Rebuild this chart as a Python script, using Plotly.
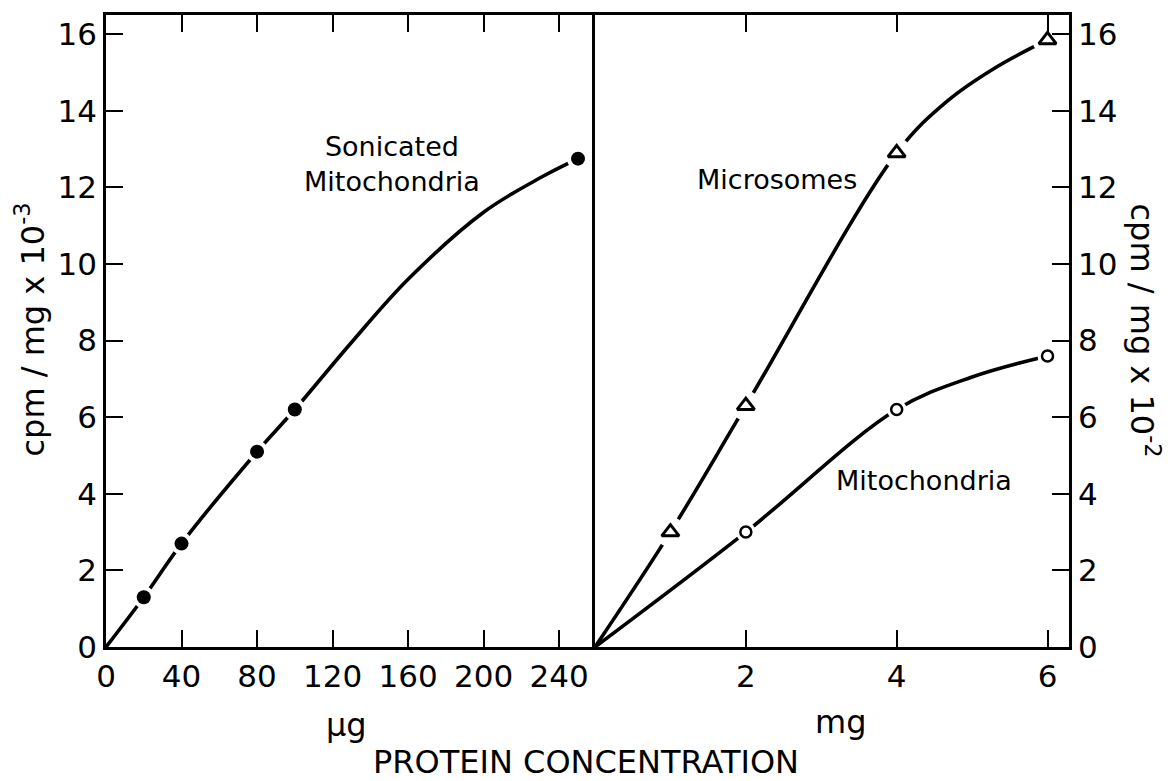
import plotly.graph_objects as go

# ---------------- data ----------------
# Left panel: sonicated mitochondria, protein in µg
son_x = [20, 40, 80, 100, 250]
son_y = [1.3, 2.7, 5.1, 6.2, 12.75]
son_curve_x = [0, 20, 40, 80, 100, 130, 160, 200, 230, 250]
son_curve_y = [0, 1.3, 2.7, 5.1, 6.2, 7.95, 9.6, 11.35, 12.25, 12.75]

# Right panel: protein in mg
mic_x = [1, 2, 4, 6]
mic_y = [3.0, 6.3, 12.9, 15.85]
mic_curve_x = [0, 1, 2, 4, 4.67, 5.33, 6]
mic_curve_y = [0, 3.0, 6.3, 12.9, 14.25, 15.15, 15.85]

mito_x = [2, 4, 6]
mito_y = [3.0, 6.2, 7.6]
mito_curve_x = [0, 2, 4, 5, 6]
mito_curve_y = [0, 3.0, 6.2, 7.05, 7.6]

left_xticks = [0, 40, 80, 120, 160, 200, 240]
right_xticks = [2, 4, 6]
yticks = [0, 2, 4, 6, 8, 10, 12, 14, 16]

FONT = "DejaVu Sans"
BLACK = "black"

fig = go.Figure()

def curve(x, y, xa, ya):
    fig.add_trace(go.Scatter(x=x, y=y, xaxis=xa, yaxis=ya, mode="lines",
                             line=dict(color=BLACK, width=3.6, shape="spline", smoothing=1.0),
                             hoverinfo="skip"))

def halo(x, y, xa, ya, size):
    fig.add_trace(go.Scatter(x=x, y=y, xaxis=xa, yaxis=ya, mode="markers",
                             marker=dict(color="white", size=size, line=dict(width=0)),
                             hoverinfo="skip"))

curve(son_curve_x, son_curve_y, "x", "y")
curve(mic_curve_x, mic_curve_y, "x2", "y2")
curve(mito_curve_x, mito_curve_y, "x2", "y2")

halo(son_x, son_y, "x", "y", 22)
halo(mic_x, mic_y, "x2", "y2", 30)
halo(mito_x, mito_y, "x2", "y2", 20)

fig.add_trace(go.Scatter(x=son_x, y=son_y, xaxis="x", yaxis="y", mode="markers",
                         marker=dict(symbol="circle", color=BLACK, size=14, line=dict(width=0))))
fig.add_trace(go.Scatter(x=mic_x, y=mic_y, xaxis="x2", yaxis="y2", mode="markers",
                         marker=dict(symbol="triangle-up-open", color=BLACK, size=15,
                                     line=dict(color=BLACK, width=3))))
fig.add_trace(go.Scatter(x=mito_x, y=mito_y, xaxis="x2", yaxis="y2", mode="markers",
                         marker=dict(symbol="circle-open", color=BLACK, size=11,
                                     line=dict(color=BLACK, width=2.5))))

split = 489 / 963
axis_common = dict(showgrid=False, zeroline=False, showline=True, linecolor=BLACK, linewidth=2.5,
                   ticks="inside", ticklen=17, tickwidth=2, tickcolor=BLACK,
                   tickfont=dict(family=FONT, size=31, color=BLACK), layer="above traces")

fig.update_layout(
    width=1173, height=781,
    margin=dict(l=106, r=104, t=12, b=134),
    paper_bgcolor="white", plot_bgcolor="white",
    showlegend=False,
    font=dict(family=FONT, color=BLACK),
    xaxis=dict(domain=[0, split], range=[0, 259], tickvals=left_xticks, mirror="ticks",
               anchor="y", **axis_common),
    yaxis=dict(domain=[0, 1], range=[0, 16.5], tickvals=yticks, mirror=False,
               anchor="x", **axis_common),
    xaxis2=dict(domain=[split, 1], range=[0, 6.285], tickvals=right_xticks, mirror="ticks",
                anchor="y2", **axis_common),
    yaxis2=dict(domain=[0, 1], range=[0, 16.5], tickvals=yticks, mirror=True, side="right",
                anchor="x2", **axis_common),
)

def ann(text, xref, yref, x, y, size, angle=0):
    fig.add_annotation(text=text, xref=xref, yref=yref, x=x, y=y, showarrow=False,
                       xanchor="center", yanchor="middle", align="center", textangle=angle,
                       font=dict(family=FONT, size=size, color=BLACK))

ann("Sonicated<br>Mitochondria", "x", "y", (392 - 106) / 1.89, (647 - 162) / 38.5, 27)
ann("Microsomes", "x2", "y2", (777 - 595) / 75.4, (647 - 177) / 38.5, 27)
ann("Mitochondria", "x2", "y2", (924 - 595) / 75.4, (647 - 480) / 38.5, 27)

ann("cpm / mg x 10<sup>-3</sup>", "paper", "paper", (30 - 106) / 963, (647 - 328) / 635, 32, -90)
ann("cpm / mg x 10<sup>-2</sup>", "paper", "paper", (1145 - 106) / 963, (647 - 329) / 635, 32, 90)
ann("µg", "paper", "paper", (346 - 106) / 963, (647 - 725) / 635, 32)
ann("mg", "paper", "paper", (840 - 106) / 963, (647 - 722) / 635, 32)
ann("PROTEIN CONCENTRATION", "paper", "paper", (586 - 106) / 963, (647 - 763) / 635, 32)

fig.write_html("out.html")
